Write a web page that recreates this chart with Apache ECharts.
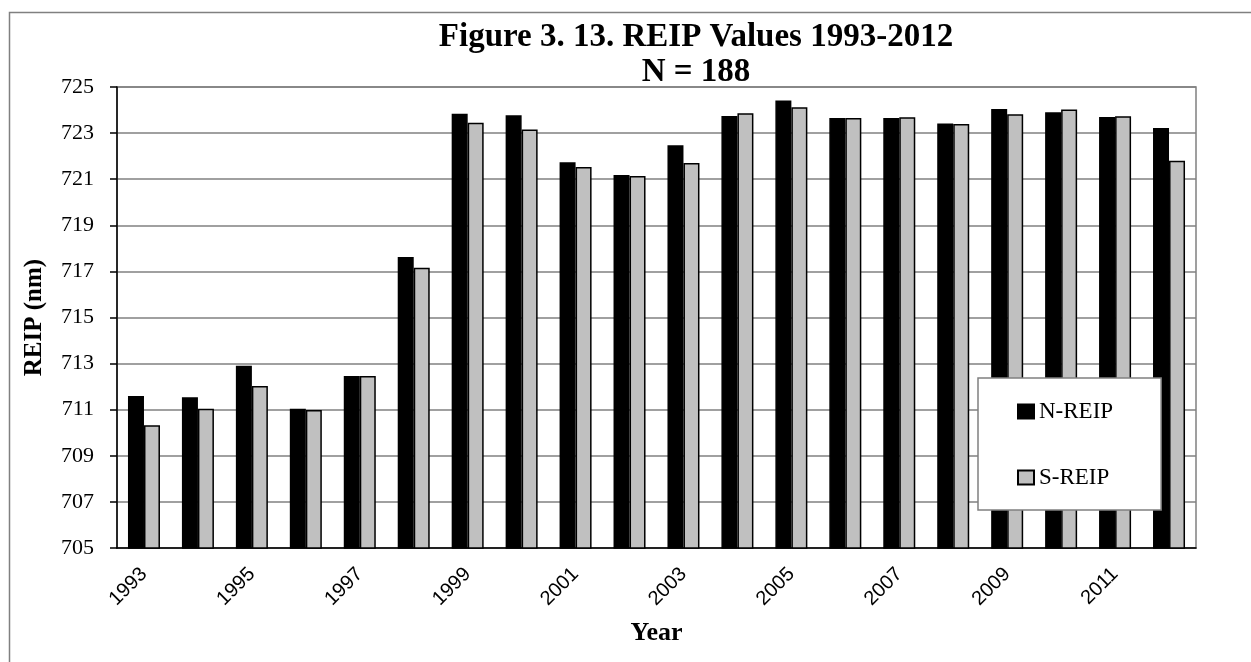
<!DOCTYPE html>
<html>
<head>
<meta charset="utf-8">
<script src="https://cdn.jsdelivr.net/npm/echarts@6/dist/echarts.min.js"></script>
<style>
html,body{margin:0;padding:0;background:#fff;}
#chart{width:1251px;height:662px;}
</style>
</head>
<body>
<div id="chart"></div>
<script>
var years = ['1993','1994','1995','1996','1997','1998','1999','2000','2001','2002','2003','2004','2005','2006','2007','2008','2009','2010','2011','2012'];
var nReip = [711.59,711.54,712.91,711.04,712.46,717.62,723.84,723.77,721.73,721.18,722.47,723.74,724.41,723.66,723.66,723.42,724.05,723.90,723.70,723.22];
var sReip = [710.32,711.04,712.03,710.99,712.46,717.16,723.45,723.16,721.53,721.14,721.70,723.86,724.12,723.66,723.69,723.39,723.82,724.02,723.73,721.80];
var yTicks = {min: 705, max: 725, interval: 2};

var serif = '"Liberation Serif", "Times New Roman", serif';
var sans = '"Liberation Sans", Arial, sans-serif';

var chart = echarts.init(document.getElementById('chart'), null, {renderer: 'canvas'});
chart.setOption({
  animation: false,
  backgroundColor: '#fff',
  graphic: [{
    type: 'rect',
    left: 7, top: 10,
    shape: {width: 1300, height: 700},
    style: {fill: 'none', stroke: '#808080', lineWidth: 1.5},
    silent: true
  }],
  title: {
    text: 'Figure 3. 13. REIP Values 1993-2012\nN = 188',
    left: 691, top: 15, textAlign: 'center',
    textStyle: {fontFamily: serif, fontWeight: 'bold', fontSize: 33, lineHeight: 35, color: '#000'}
  },
  legend: {
    orient: 'vertical',
    left: 978, top: 378,
    backgroundColor: '#fff',
    borderColor: '#808080', borderWidth: 1.5,
    padding: [22, 48, 21, 39],
    itemWidth: 16, itemHeight: 14, itemGap: 43,
    icon: 'rect',
    textStyle: {fontFamily: serif, fontSize: 23, color: '#000'},
    data: ['N-REIP', 'S-REIP']
  },
  grid: {
    left: 117, right: 55, top: 87, bottom: 114,
    show: true, borderColor: '#808080', borderWidth: 1.5
  },
  xAxis: {
    type: 'category',
    data: years,
    name: 'Year',
    nameLocation: 'middle',
    nameGap: 72,
    nameTextStyle: {fontFamily: serif, fontWeight: 'bold', fontSize: 26, color: '#000'},
    axisLine: {lineStyle: {color: '#000', width: 1.5}},
    axisTick: {interval: 1, length: 7, lineStyle: {color: '#000', width: 1.5}},
    axisLabel: {interval: 1, rotate: 45, margin: 23, fontFamily: sans, fontSize: 20, color: '#000'},
    splitLine: {show: false}
  },
  yAxis: {
    type: 'value',
    min: yTicks.min, max: yTicks.max, interval: yTicks.interval,
    name: 'REIP (nm)',
    nameLocation: 'middle',
    nameGap: 70,
    nameTextStyle: {fontFamily: serif, fontWeight: 'bold', fontSize: 25, color: '#000'},
    axisLine: {show: true, lineStyle: {color: '#000', width: 1.5}},
    axisTick: {show: true, length: 7, lineStyle: {color: '#000', width: 1.5}},
    axisLabel: {margin: 23, fontFamily: serif, fontSize: 22, color: '#000'},
    splitLine: {lineStyle: {color: '#808080', width: 1.5}}
  },
  series: [{
    name: 'N-REIP',
    type: 'bar',
    data: nReip,
    barWidth: 16,
    barGap: '0%',
    itemStyle: {color: '#000', borderColor: '#000', borderWidth: 1.5}
  }, {
    name: 'S-REIP',
    type: 'bar',
    data: sReip,
    barWidth: 16,
    barGap: '0%',
    itemStyle: {color: '#c0c0c0', borderColor: '#000', borderWidth: 1.5}
  }]
});
</script>
</body>
</html>
